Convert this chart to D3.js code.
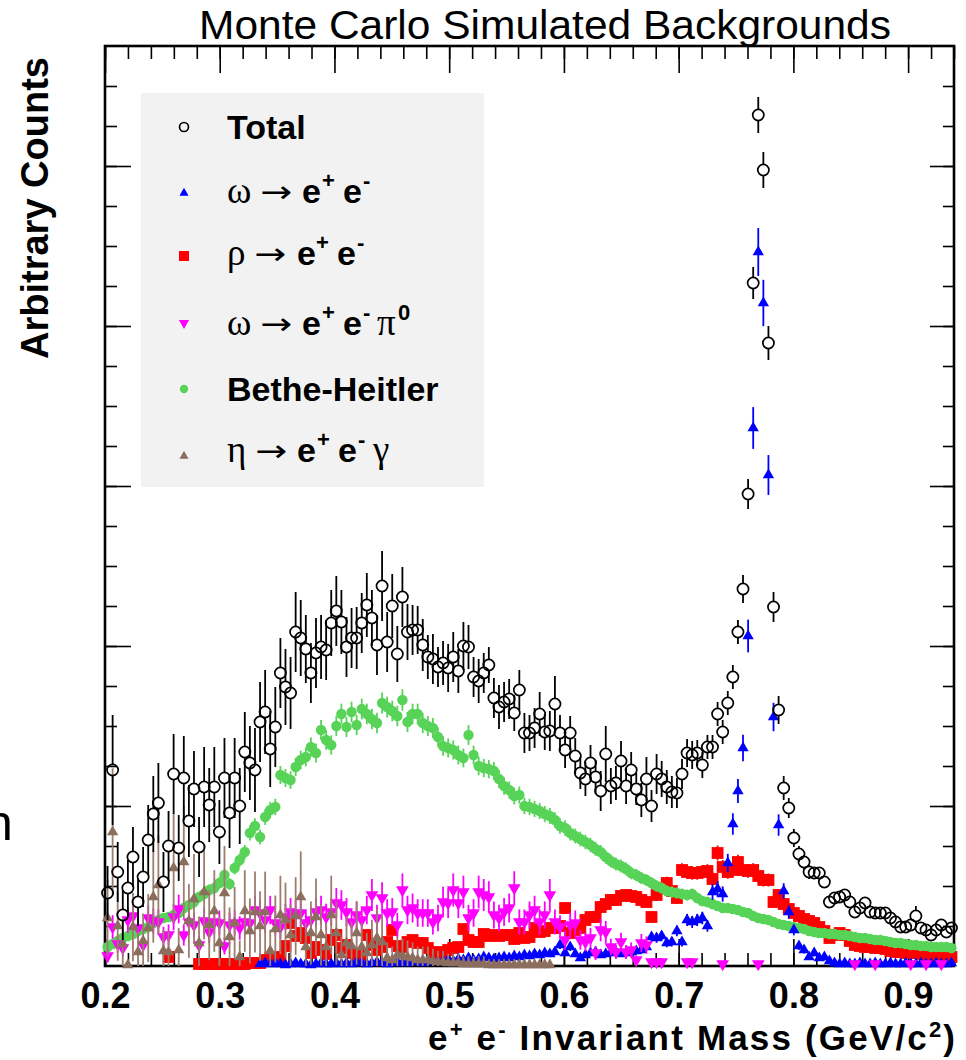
<!DOCTYPE html>
<html><head><meta charset="utf-8">
<script src="https://cdn.jsdelivr.net/npm/d3@7"></script>
<style>body{margin:0;background:#fff}svg{display:block}</style>
</head><body>
<svg id="c" width="966" height="1060"></svg>
<script>
// ---- histogram binning / axis ----
const xMin = 0.2, xMax = 0.94, nBins = 167;
const xMajorTicks = [0.2, 0.3, 0.4, 0.5, 0.6, 0.7, 0.8, 0.9];
const xTickLabels = ["0.2","0.3","0.4","0.5","0.6","0.7","0.8","0.9"];
const yMax = 920;
const yMajorTicks = [160, 320, 480, 640, 800];

// ---- series (arbitrary counts per bin) ----
const total = [
73,196,94,51,78,109,64,89,126,152,
163,84,120,192,118,188,145,177,119,179,
161,179,134,188,153,188,160,214,203,196,
244,254,217,239,293,279,273,334,328,317,
293,313,319,316,343,355,344,319,328,328,
343,361,348,321,380,324,360,312,369,334,
336,336,321,309,307,299,303,298,309,295,
320,319,289,285,293,301,268,259,264,267,
253,276,233,233,238,252,234,235,262,233,
216,233,210,193,187,203,189,175,212,180,
183,205,180,196,177,166,187,160,192,187,
179,174,173,192,213,211,213,201,219,219,
252,234,263,289,334,377,472,683,851,796,
623,359,256,178,158,128,112,104,94,93,
93,84,64,68,69,71,64,54,58,63,
54,53,53,53,48,44,39,39,41,50,
38,36,31,36,41,34,38];
const totalErr = [
27,55,30,25,28,30,24,30,35,38,
40,30,35,40,33,42,36,38,30,40,
37,40,32,40,35,40,38,40,37,42,
40,42,38,40,35,38,36,40,38,34,
30,35,32,30,33,35,32,30,30,31,
30,32,28,30,35,30,32,28,30,28,
25,24,26,22,25,20,22,24,25,22,
24,22,20,22,20,18,20,22,20,20,
18,20,20,18,20,22,18,20,28,18,
18,17,18,16,17,18,17,20,28,18,
17,20,18,18,16,17,22,16,20,18,
17,16,15,15,14,14,13,13,12,12,
12,12,12,12,12,14,15,16,18,18,
17,15,14,12,10,9,8,7,7,6,
6,6,6,6,6,6,6,5,5,5,
5,5,5,5,5,5,5,5,5,10,
5,5,5,5,5,5,5];
const omegaEE = [
null,null,null,null,null,null,null,null,null,null,
null,null,null,null,null,null,null,null,null,null,
null,null,null,null,null,null,null,null,null,null,
2,3,2,3,2,1,2,3,2,2,
1,2,3,2,2,3,2,3,2,4,
3,2,3,4,3,2,3,4,3,3,
4,5,3,4,5,4,5,6,5,7,
6,8,6,7,9,8,7,8,9,8,
10,9,11,10,12,11,13,12,14,21,
13,19,12,8,11,13,14,11,12,13,
14,12,13,14,15,16,19,29,28,30,
23,24,35,24,46,44,46,48,40,74,
77,72,103,142,175,218,330,538,714,663,
491,249,141,75,54,36,20,16,9,13,
8,9,5,3,2,3,2,2,3,2,
2,3,2,2,3,2,2,3,2,2,
3,2,2,3,2,2,3];
const rhoEE = [
null,null,null,null,null,null,null,null,null,null,
null,null,9,null,null,null,null,null,2,2,
2,2,2,2,2,2,2,2,3,3,
3,6,8,8,9,20,43,30,33,28,
13,19,16,12,26,31,18,21,13,9,
11,31,21,16,19,24,36,20,19,24,
26,23,23,18,13,14,13,16,18,19,
37,26,24,24,32,30,31,30,31,31,
27,33,28,29,38,34,35,38,38,40,
58,33,36,38,46,49,49,59,62,66,
66,70,71,70,69,66,64,49,71,78,
83,75,68,96,94,93,93,94,95,87,
113,99,94,96,104,96,95,96,90,86,
86,64,71,62,57,53,50,47,45,43,
39,35,28,31,33,31,25,21,20,19,
19,18,18,17,15,14,14,13,13,13,
12,11,11,10,10,9,9];
const omegaDalitz = [
10,39,22,18,46,50,38,21,48,45,
44,29,31,49,57,31,44,41,21,45,
34,44,43,20,41,43,38,44,43,56,
53,46,56,43,39,49,54,52,53,43,
46,54,56,49,54,63,61,54,44,51,
46,56,71,48,68,53,54,41,76,56,
58,53,53,53,44,48,64,63,76,63,
74,48,53,74,71,69,51,48,54,58,
78,44,44,51,56,44,51,71,44,39,
26,41,43,26,24,28,13,36,34,19,
14,24,14,16,6,23,21,4,4,4,
null,null,null,null,4,4,null,null,null,null,
null,2,null,null,null,null,null,null,2,null,
null,null,null,null,null,null,null,null,null,null,
null,null,null,null,null,null,null,2,null,null,
null,2,null,null,null,null,null,null,2,null,
null,2,null,null,2,null,null];
const betheHeitler = [
19,22,25,28,30,32,35,37,39,43,
46,48,49,51,53,58,61,64,69,72,
76,78,83,91,82,98,106,114,133,140,
129,149,156,159,191,188,186,199,206,209,
219,213,236,226,221,240,252,239,254,241,
257,252,247,243,263,259,255,250,266,244,
252,252,243,240,238,229,220,218,216,211,
208,231,211,200,198,197,195,187,180,176,
170,171,160,159,157,155,152,150,146,140,
138,133,130,127,124,121,117,114,109,105,
102,100,97,93,91,88,86,83,80,78,
75,74,73,72,71,72,68,65,64,62,
60,58,58,57,56,54,53,50,48,47,
46,44,42,41,40,39,38,37,35,34,
33,33,32,32,31,31,30,29,28,28,
27,26,26,25,24,23,23,22,21,21,
20,20,19,19,19,19,18];
const etaDalitz = [
48,134,40,22,1,39,14,25,38,69,
81,15,14,98,16,104,45,67,23,74,
41,55,23,73,29,43,9,55,35,54,
40,54,15,37,51,46,31,50,69,19,
33,49,31,19,51,33,11,23,20,33,
19,13,21,28,24,8,6,11,10,9,
8,6,6,6,5,4,4,3,3,3,
2,2,2,2,2,1,1,1,1,1,
1,1,1,1,1,1,1,1];

// ---- legend labels ----
const legendLabels = {
  total:  [{t:"Total", f:"b", x:0}],
  omega:  [{t:"ω", f:"s", x:0},{t:"→", f:"a", x:33},{t:"e", f:"b", x:75},{t:"+", f:"p", x:95},{t:"e", f:"b", x:116},{t:"-", f:"p", x:136}],
  rho:    [{t:"ρ", f:"s", x:0},{t:"→", f:"a", x:27},{t:"e", f:"b", x:70},{t:"+", f:"p", x:89},{t:"e", f:"b", x:110},{t:"-", f:"p", x:130}],
  omegaD: [{t:"ω", f:"s", x:0},{t:"→", f:"a", x:33},{t:"e", f:"b", x:75},{t:"+", f:"p", x:95},{t:"e", f:"b", x:116},{t:"-", f:"p", x:136},{t:"π", f:"s", x:150},{t:"0", f:"p", x:171}],
  bh:     [{t:"Bethe-Heitler", f:"b", x:0}],
  eta:    [{t:"η", f:"s", x:0},{t:"→", f:"a", x:28},{t:"e", f:"b", x:70},{t:"+", f:"p", x:90},{t:"e", f:"b", x:111},{t:"-", f:"p", x:131},{t:"γ", f:"s", x:146}]
};

// ---- drawing ----
const svg = d3.select("#c");
const SANS = "'Liberation Sans', Arial, Helvetica, sans-serif";
const SERIF = "'Liberation Serif', 'Times New Roman', 'DejaVu Serif', serif";
const fr = {l:105, r:954, t:46, b:966};
const x = d3.scaleLinear().domain([xMin, xMax]).range([fr.l, fr.r]);
const y = d3.scaleLinear().domain([0, yMax]).range([fr.b, fr.t]);
const binW = (xMax - xMin) / nBins;
const centers = d3.range(nBins).map(i => xMin + (i + 0.5) * binW);

svg.append("rect").attr("width", 966).attr("height", 1060).attr("fill", "#fff");

svg.append("defs").append("clipPath").attr("id", "fc")
  .append("rect").attr("x", fr.l).attr("y", fr.t).attr("width", fr.r - fr.l).attr("height", fr.b - fr.t);

// axes (ticks inward)
const xMinor = d3.range(0, 38).map(k => +(0.2 + k * 0.02).toFixed(3)).filter(v => v <= xMax);
const yMinor = d3.range(40, yMax, 40);
function styleAxis(g) { g.select(".domain").remove(); g.selectAll("line").attr("stroke", "#000").attr("stroke-width", 1.6); }
svg.append("g").attr("transform", `translate(0,${fr.b})`)
  .call(d3.axisBottom(x).tickValues(xMinor).tickSize(-13).tickFormat("")).call(styleAxis);
const xa = svg.append("g").attr("transform", `translate(0,${fr.b})`)
  .call(d3.axisBottom(x).tickValues(xMajorTicks).tickSize(-27).tickPadding(16)
    .tickFormat((d, i) => xTickLabels[i])).call(styleAxis);
xa.selectAll("text").attr("font-family", SANS).attr("font-weight", "bold").attr("font-size", 36).attr("fill", "#000");
svg.append("g").attr("transform", `translate(0,${fr.t})`)
  .call(d3.axisTop(x).tickValues(xMinor).tickSize(-13).tickFormat("")).call(styleAxis);
svg.append("g").attr("transform", `translate(0,${fr.t})`)
  .call(d3.axisTop(x).tickValues(xMajorTicks).tickSize(-27).tickFormat("")).call(styleAxis);
svg.append("g").attr("transform", `translate(${fr.l},0)`)
  .call(d3.axisLeft(y).tickValues(yMinor).tickSize(-12).tickFormat("")).call(styleAxis);
svg.append("g").attr("transform", `translate(${fr.l},0)`)
  .call(d3.axisLeft(y).tickValues(yMajorTicks).tickSize(-26).tickFormat("")).call(styleAxis);
svg.append("g").attr("transform", `translate(${fr.r},0)`)
  .call(d3.axisRight(y).tickValues(yMinor).tickSize(-11).tickFormat("")).call(styleAxis);
svg.append("g").attr("transform", `translate(${fr.r},0)`)
  .call(d3.axisRight(y).tickValues(yMajorTicks).tickSize(-24).tickFormat("")).call(styleAxis);
svg.append("rect").attr("x", fr.l).attr("y", fr.t).attr("width", fr.r - fr.l).attr("height", fr.b - fr.t)
  .attr("fill", "none").attr("stroke", "#000").attr("stroke-width", 2.6);

// legend box (drawn under data)
svg.append("rect").attr("x", 141).attr("y", 93).attr("width", 343).attr("height", 394).attr("fill", "#f2f2f2");

const series = [
  {key:"rho",    data:rhoEE,        color:"#ff0000", ecol:"#ff0000", shape:"square", k:0.7},
  {key:"bh",     data:betheHeitler, color:"#57d357", ecol:"#57d357", shape:"dot", k:0.65},
  {key:"omega",  data:omegaEE,      color:"#0000ff", ecol:"#0000ff", shape:"tri", k:0.9},
  {key:"omegaD", data:omegaDalitz,  color:"#ff00ff", ecol:"#ff00ff", shape:"tridown", k:1.9},
  {key:"eta",    data:etaDalitz,    color:"#8c6e5f", ecol:"#9c7d6e", shape:"tri", k:5.5}
];
const symTri = d3.symbol().type(d3.symbolTriangle).size(56)();
const symSq = d3.symbol().type(d3.symbolSquare).size(140)();
function marker(g, shape, color, cx, cy, scale) {
  scale = scale || 1;
  if (shape === "square") g.append("path").attr("d", symSq).attr("fill", color).attr("transform", `translate(${cx},${cy}) scale(${scale})`);
  else if (shape === "tri") g.append("path").attr("d", symTri).attr("fill", color).attr("transform", `translate(${cx},${cy}) scale(${scale})`);
  else if (shape === "tridown") g.append("path").attr("d", symTri).attr("fill", color).attr("transform", `translate(${cx},${cy}) rotate(180) scale(${scale*1.12})`);
  else if (shape === "dot") g.append("circle").attr("cx", cx).attr("cy", cy).attr("r", 5.2 * scale).attr("fill", color);
  else if (shape === "open") g.append("circle").attr("cx", cx).attr("cy", cy).attr("r", 5.6 * scale).attr("fill", "none").attr("stroke", color).attr("stroke-width", 1.7);
}

series.forEach(s => {
  const g = svg.append("g");
  const eg = g.append("g").attr("clip-path", "url(#fc)");
  s.data.forEach((v, i) => {
    if (v === null || v === undefined) return;
    const e = s.k * Math.sqrt(v);
    const cx = x(centers[i]);
    if (e > 3) eg.append("line").attr("x1", cx).attr("x2", cx).attr("y1", y(v - e)).attr("y2", y(v + e))
      .attr("stroke", s.ecol).attr("stroke-width", 1.8);
  });
  s.data.forEach((v, i) => {
    if (v === null || v === undefined) return;
    marker(g, s.shape, s.color, x(centers[i]), y(v));
  });
});

// total with error bars gapped around hollow marker
const gt = svg.append("g");
const gte = gt.append("g").attr("clip-path", "url(#fc)");
const rT = 5.6;
total.forEach((v, i) => {
  const cx = x(centers[i]), cy = y(v), e = totalErr[i];
  const top = y(v + e), bot = y(Math.max(0, v - e));
  if (cy - rT > top) gte.append("line").attr("x1", cx).attr("x2", cx).attr("y1", top).attr("y2", cy - rT).attr("stroke", "#000").attr("stroke-width", 1.8);
  if (bot > cy + rT) gte.append("line").attr("x1", cx).attr("x2", cx).attr("y1", cy + rT).attr("y2", bot).attr("stroke", "#000").attr("stroke-width", 1.8);
  marker(gt, "open", "#000", cx, cy);
});

// legend entries
const legendOrder = [
  {key:"total",  shape:"open",    color:"#000",    my:127, by:139},
  {key:"omega",  shape:"tri",     color:"#0000ff", my:193, by:203},
  {key:"rho",    shape:"square",  color:"#ff0000", my:256, by:265},
  {key:"omegaD", shape:"tridown", color:"#ff00ff", my:323, by:335},
  {key:"bh",     shape:"dot",     color:"#57d357", my:389, by:401},
  {key:"eta",    shape:"tri",     color:"#8c6e5f", my:456, by:462}
];
const lg = svg.append("g");
const tx0 = 227;
legendOrder.forEach(r => {
  marker(lg, r.shape, r.color, 184, r.my, r.shape === "square" ? 0.85 : 0.8);
  legendLabels[r.key].forEach(p => {
    const t = lg.append("text").attr("x", tx0 + p.x).attr("y", r.by).text(p.t).attr("fill", "#000");
    if (p.f === "b") t.attr("font-family", SANS).attr("font-weight", "bold").attr("font-size", 34);
    else if (p.f === "s") t.attr("font-family", SERIF).attr("font-size", 37);
    else if (p.f === "a") t.attr("font-family", "'DejaVu Sans', sans-serif").attr("font-size", 30)
      .attr("textLength", 32).attr("lengthAdjust", "spacingAndGlyphs").attr("y", r.by - 1);
    else if (p.f === "p") t.attr("font-family", SANS).attr("font-weight", "bold").attr("font-size", 22).attr("y", r.by - 15);
  });
});

// title and axis titles
svg.append("text").attr("x", 545).attr("y", 39).attr("text-anchor", "middle")
  .attr("font-family", SANS).attr("font-size", 41).attr("fill", "#000")
  .attr("textLength", 692).attr("lengthAdjust", "spacingAndGlyphs")
  .text("Monte Carlo Simulated Backgrounds");

svg.append("text").attr("transform", "translate(48,208) rotate(-90)").attr("text-anchor", "middle")
  .attr("font-family", SANS).attr("font-weight", "bold").attr("font-size", 38).attr("fill", "#000")
  .text("Arbitrary Counts");

const xt = svg.append("text").attr("x", 428).attr("y", 1050)
  .attr("font-family", SANS).attr("font-weight", "bold").attr("font-size", 35).attr("fill", "#000")
  .attr("textLength", 527).attr("lengthAdjust", "spacing");
xt.append("tspan").text("e");
xt.append("tspan").text("+").attr("font-size", 22).attr("dy", -13);
xt.append("tspan").text(" e").attr("dy", 13);
xt.append("tspan").text("-").attr("font-size", 22).attr("dy", -13);
xt.append("tspan").text(" Invariant Mass (GeV/c").attr("dy", 13);
xt.append("tspan").text("2").attr("font-size", 22).attr("dy", -13);
xt.append("tspan").text(")").attr("dy", 13);

// stray clipped glyph at left edge (as in the reference)
svg.append("text").attr("x", -15).attr("y", 840).attr("font-family", SANS).attr("font-size", 50).attr("fill", "#000").text("n");
</script>
</body></html>
